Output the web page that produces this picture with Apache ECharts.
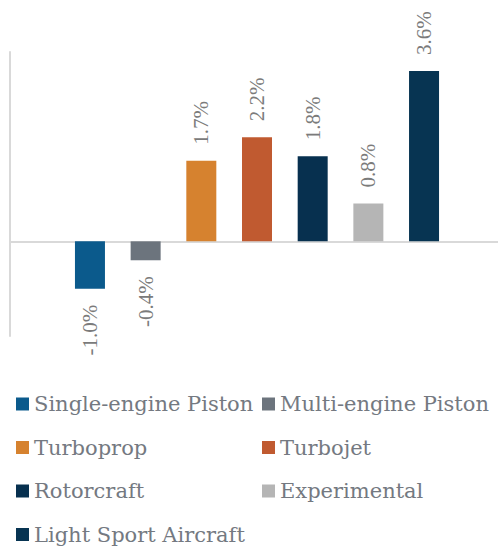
<!DOCTYPE html>
<html>
<head>
<meta charset="utf-8">
<style>html,body{margin:0;padding:0;background:#fff;}#c{width:498px;height:547px;}</style>
<script src="https://cdn.jsdelivr.net/npm/echarts@6/dist/echarts.min.js"></script>
</head>
<body>
<div id="c"></div>
<script>
const seriesNames = ['Single-engine Piston','Multi-engine Piston','Turboprop','Turbojet','Rotorcraft','Experimental','Light Sport Aircraft'];
const seriesValues = [-1.0, -0.4, 1.7, 2.2, 1.8, 0.8, 3.6];
const seriesColors = ['#0b5a8c','#6c747d','#d6822f','#c05a30','#07304f','#b5b5b5','#073452'];
const legendCol1 = ['Single-engine Piston','Turboprop','Rotorcraft','Light Sport Aircraft'];
const legendCol2 = ['Multi-engine Piston','Turbojet','Experimental'];

const chart = echarts.init(document.getElementById('c'), null, {renderer:'svg'});
const labelFont = 'Liberation Serif';
const legendFont = 'DejaVu Serif';
const series = seriesNames.map((n, i) => {
  const v = seriesValues[i];
  const neg = v < 0;
  return {
    name: n,
    type: 'bar',
    data: [v],
    barWidth: 30,
    barGap: '85.6%',
    itemStyle: {color: seriesColors[i]},
    label: {
      show: true,
      position: neg ? 'bottom' : 'top',
      rotate: 90,
      align: neg ? 'right' : 'left',
      verticalAlign: 'middle',
      distance: 16,
      color: '#7b7b7b',
      fontFamily: labelFont,
      fontSize: 21,
      formatter: p => p.value.toFixed(1) + '%'
    }
  };
});
const legendCommon = {
  orient: 'vertical',
  icon: 'rect',
  itemWidth: 13,
  itemHeight: 13,
  itemGap: 21.5,
  padding: 0,
  selectedMode: false,
  textStyle: {fontFamily: legendFont, fontSize: 21, color: '#747981', lineHeight: 22}
};
chart.setOption({
  animation: false,
  grid: {left: 10, width: 494, top: 52, height: 284, containLabel: false, outerBoundsMode: 'none'},
  legend: [
    Object.assign({left: 16, top: 393, data: legendCol1}, legendCommon),
    Object.assign({left: 262, top: 393, data: legendCol2}, legendCommon)
  ],
  xAxis: {
    type: 'category',
    data: [''],
    axisLine: {show: true, onZero: true, lineStyle: {color: '#d9d9d9', width: 2}},
    axisTick: {show: false},
    axisLabel: {show: false}
  },
  yAxis: {
    type: 'value',
    min: -2, max: 4, interval: 1,
    axisLine: {show: true, lineStyle: {color: '#d9d9d9', width: 2}},
    axisTick: {show: false},
    axisLabel: {show: false},
    splitLine: {show: false}
  },
  series: series
});
</script>
</body>
</html>
